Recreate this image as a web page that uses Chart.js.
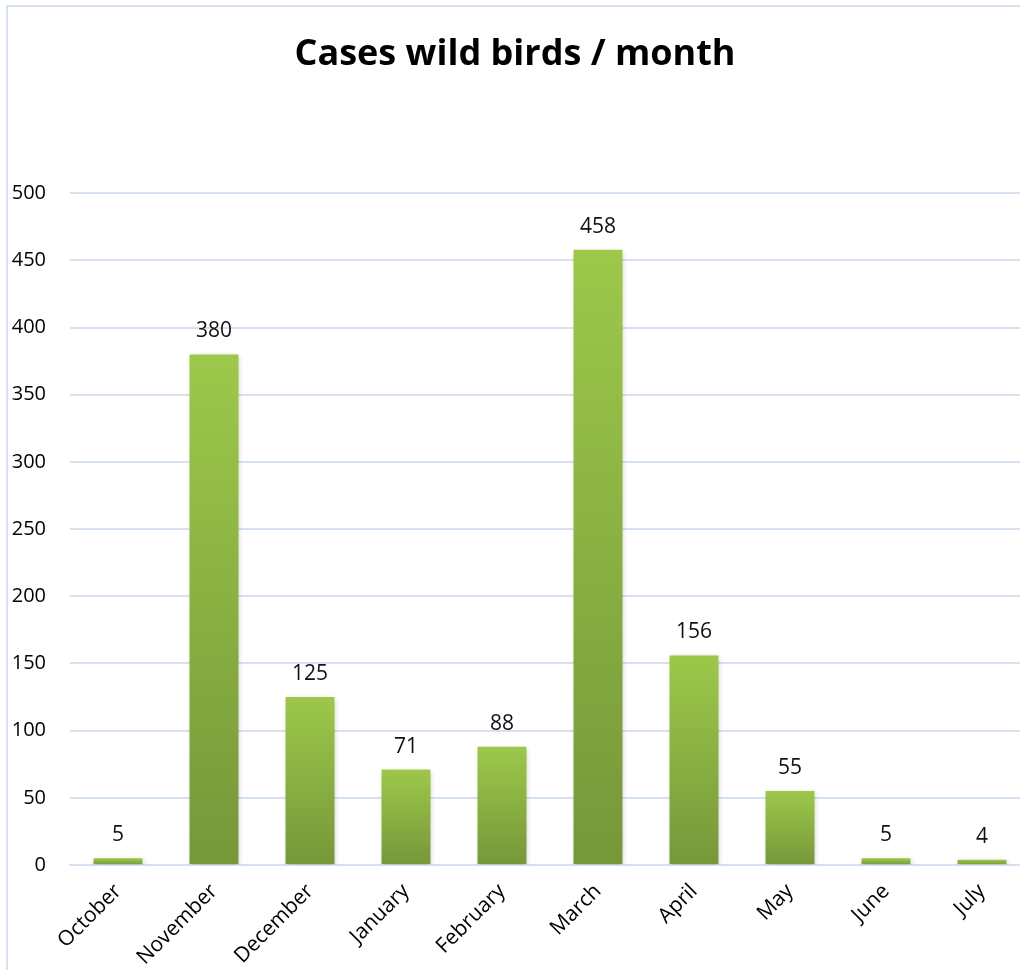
<!DOCTYPE html>
<html>
<head>
<meta charset="utf-8">
<script src="https://cdn.jsdelivr.net/npm/chart.js@4/dist/chart.umd.min.js"></script>
<style>
  html, body { margin: 0; padding: 0; background: #fff; overflow: hidden; width: 1020px; height: 970px; }
  #frame { position: absolute; left: 6px; top: 5px; width: 1100px; height: 1100px; border: 2px solid #D7E2F1; }
  #chart { position: absolute; left: 0; top: 0; }
</style>
</head>
<body>
<div id="frame"></div>
<canvas id="chart" width="1060" height="970"></canvas>
<script>
const months = ["October", "November", "December", "January", "February", "March", "April", "May", "June", "July"];
const cases = [5, 380, 125, 71, 88, 458, 156, 55, 5, 4];
const yTicks = [0, 50, 100, 150, 200, 250, 300, 350, 400, 450, 500];

const fontFamily = "'Open Sans', sans-serif";

// gradient for each bar, light on top, darker at the base
function barGradient(ctx) {
  const chart = ctx.chart;
  if (!chart.chartArea) return "#8AAE42";
  const y = chart.scales.y;
  const top = y.getPixelForValue(ctx.raw);
  const bottom = y.getPixelForValue(0);
  const g = chart.ctx.createLinearGradient(0, top, 0, bottom);
  g.addColorStop(0, "#9DC84A");
  g.addColorStop(1, "#76973A");
  return g;
}

const barShadow = {
  id: "barShadow",
  beforeDatasetDraw(chart) {
    const c = chart.ctx;
    c.save();
    c.shadowColor = "rgba(0,0,0,0.22)";
    c.shadowBlur = 5;
    c.shadowOffsetX = 1;
    c.shadowOffsetY = 2;
  },
  afterDatasetDraw(chart) {
    chart.ctx.restore();
  }
};

const valueLabels = {
  id: "valueLabels",
  afterDatasetsDraw(chart) {
    const c = chart.ctx;
    const meta = chart.getDatasetMeta(0);
    c.save();
    c.font = "21px " + fontFamily;
    c.fillStyle = "#111";
    c.textAlign = "center";
    c.textBaseline = "middle";
    meta.data.forEach((bar, i) => {
      c.fillText(cases[i], bar.x, bar.y - 23);
    });
    c.restore();
  }
};

new Chart(document.getElementById("chart"), {
  type: "bar",
  data: {
    labels: months,
    datasets: [{
      data: cases,
      backgroundColor: barGradient,
      borderWidth: 0,
      barPercentage: 0.51,
      categoryPercentage: 1
    }]
  },
  plugins: [barShadow, valueLabels],
  options: {
    responsive: false,
    animation: false,
    layout: { padding: { top: 33, left: 0, right: 30, bottom: 0 } },
    plugins: {
      legend: { display: false },
      tooltip: { enabled: false },
      title: {
        display: true,
        text: "Cases wild birds / month",
        color: "#000",
        font: { family: fontFamily, size: 36, weight: "bold" },
        padding: { top: 0, bottom: 117 }
      }
    },
    scales: {
      x: {
        grid: { display: false, drawTicks: false },
        border: { color: "#D7E2F1", width: 2 },
        ticks: {
          color: "#000",
          font: { family: fontFamily, size: 21 },
          maxRotation: 45,
          minRotation: 45,
          padding: 14
        },
        afterFit(scale) { scale.height = 105; }
      },
      y: {
        min: 0,
        max: 500,
        afterBuildTicks(scale) { scale.ticks = yTicks.map(v => ({ value: v })); },
        grid: { color: "#D7E2F1", lineWidth: 2, drawTicks: false },
        border: { display: false },
        ticks: {
          color: "#000",
          font: { family: fontFamily, size: 20 },
          padding: 24
        },
        afterFit(scale) { scale.width = 70; }
      }
    }
  }
});
</script>
</body>
</html>
